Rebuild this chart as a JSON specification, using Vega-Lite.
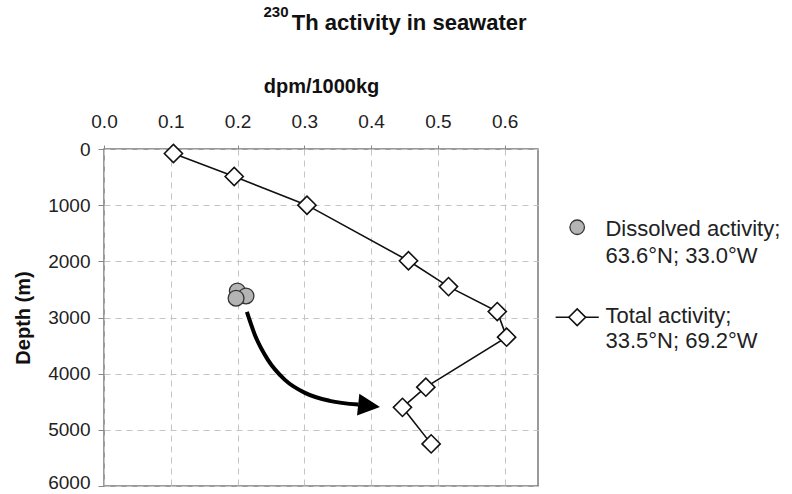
{
  "$schema": "https://vega.github.io/schema/vega-lite/v6.json",
  "autosize": {"type": "none"},
  "padding": {"left": 104, "top": 149, "right": 254, "bottom": 8},
  "width": 434,
  "height": 337,
  "background": "white",
  "config": {
    "font": "Liberation Sans",
    "view": {"stroke": "#7a7a7a", "strokeWidth": 1.5},
    "axis": {
      "labelFont": "Liberation Sans",
      "titleFont": "Liberation Sans",
      "labelColor": "#222",
      "titleColor": "#111",
      "labelFontSize": 19,
      "titleFontSize": 20,
      "titleFontWeight": "bold",
      "domain": false,
      "tickColor": "#888",
      "gridColor": "#c4c4c4",
      "gridDash": [6, 5],
      "gridWidth": 1
    }
  },
  "datasets": {
    "total": [
      {"x": 0.104, "y": 80},
      {"x": 0.195, "y": 490},
      {"x": 0.304, "y": 1000},
      {"x": 0.456, "y": 1990},
      {"x": 0.516, "y": 2450},
      {"x": 0.589, "y": 2895},
      {"x": 0.603, "y": 3350},
      {"x": 0.482, "y": 4240},
      {"x": 0.447, "y": 4600},
      {"x": 0.49, "y": 5250}
    ],
    "dissolved": [
      {"x": 0.1997, "y": 2527, "o": 1},
      {"x": 0.2127, "y": 2616, "o": 2},
      {"x": 0.1978, "y": 2657, "o": 3}
    ],
    "arrow": [
      {"x": 0.214, "y": 2900},
      {"x": 0.226, "y": 3310},
      {"x": 0.2455, "y": 3754},
      {"x": 0.271, "y": 4110},
      {"x": 0.301, "y": 4342},
      {"x": 0.338, "y": 4484},
      {"x": 0.381, "y": 4550}
    ],
    "arrowhead": [{"x": 0.397, "y": 4573}],
    "legCircle": [{"x": 0.7087, "y": 1393}],
    "legLine": [{"x": 0.6764, "x2": 0.741, "y": 2995}],
    "legDiamond": [{"x": 0.7087, "y": 2995}],
    "legText": [
      {"x": 0.751, "y": 1420, "t": "Dissolved activity;"},
      {"x": 0.751, "y": 1900, "t": "63.6°N; 33.0°W"},
      {"x": 0.751, "y": 2970, "t": "Total activity;"},
      {"x": 0.751, "y": 3420, "t": "33.5°N; 69.2°W"}
    ],
    "titleMain": [{"x": 0.2813, "y": -2126, "t": "Th activity in seawater"}],
    "titleSup": [{"x": 0.2388, "y": -2349, "t": "230"}]
  },
  "encoding": {
    "x": {
      "field": "x",
      "type": "quantitative",
      "scale": {"domain": [0, 0.65], "nice": false, "zero": false},
      "axis": {
        "orient": "top",
        "title": "dpm/1000kg",
        "values": [0, 0.1, 0.2, 0.3, 0.4, 0.5, 0.6],
        "format": ".1f",
        "tickSize": 4,
        "labelPadding": 14,
        "titlePadding": 16,
        "labelFlush": false
      }
    },
    "y": {
      "field": "y",
      "type": "quantitative",
      "scale": {"domain": [0, 6000], "reverse": true, "nice": false},
      "axis": {
        "title": "Depth (m)",
        "values": [0, 1000, 2000, 3000, 4000, 5000, 6000],
        "format": "d",
        "tickSize": 6,
        "labelPadding": 8,
        "titlePadding": 14,
        "labelFlush": false,
        "labelOffset": {"condition": {"test": "datum.value === 6000", "value": -4}, "value": 0}
      }
    }
  },
  "layer": [
    {
      "data": {"name": "total"},
      "mark": {"type": "line", "color": "#111", "strokeWidth": 1.6},
      "encoding": {"order": {"field": "y", "type": "quantitative"}}
    },
    {
      "data": {"name": "total"},
      "mark": {"type": "point", "shape": "diamond", "size": 330, "filled": true, "fill": "white", "stroke": "#111", "strokeWidth": 1.6, "opacity": 1}
    },
    {
      "data": {"name": "dissolved"},
      "mark": {"type": "point", "shape": "circle", "size": 250, "filled": true, "fill": "#b4b4b4", "stroke": "#333", "strokeWidth": 1.3, "opacity": 1},
      "encoding": {"order": {"field": "o", "type": "quantitative"}}
    },
    {
      "data": {"name": "arrow"},
      "mark": {"type": "line", "color": "#000", "strokeWidth": 4, "interpolate": "monotone"}
    },
    {
      "data": {"name": "arrowhead"},
      "mark": {"type": "point", "shape": "M-1,-1L1,0L-1,1Z", "size": 480, "angle": 6, "filled": true, "fill": "#000", "opacity": 1}
    },
    {
      "data": {"name": "legCircle"},
      "mark": {"type": "point", "shape": "circle", "size": 210, "filled": true, "fill": "#b4b4b4", "stroke": "#333", "strokeWidth": 1.3, "opacity": 1}
    },
    {
      "data": {"name": "legLine"},
      "mark": {"type": "rule", "color": "#111", "strokeWidth": 1.6},
      "encoding": {"x2": {"field": "x2"}}
    },
    {
      "data": {"name": "legDiamond"},
      "mark": {"type": "point", "shape": "diamond", "size": 280, "filled": true, "fill": "white", "stroke": "#111", "strokeWidth": 1.6, "opacity": 1}
    },
    {
      "data": {"name": "legText"},
      "mark": {"type": "text", "align": "left", "baseline": "middle", "fontSize": 22, "font": "Liberation Sans", "color": "#222"},
      "encoding": {"text": {"field": "t"}}
    },
    {
      "data": {"name": "titleMain"},
      "mark": {"type": "text", "align": "left", "baseline": "alphabetic", "fontSize": 22, "fontWeight": "bold", "font": "Liberation Sans", "color": "#111"},
      "encoding": {"text": {"field": "t"}}
    },
    {
      "data": {"name": "titleSup"},
      "mark": {"type": "text", "align": "left", "baseline": "alphabetic", "fontSize": 15, "fontWeight": "bold", "font": "Liberation Sans", "color": "#111"},
      "encoding": {"text": {"field": "t"}}
    }
  ]
}
